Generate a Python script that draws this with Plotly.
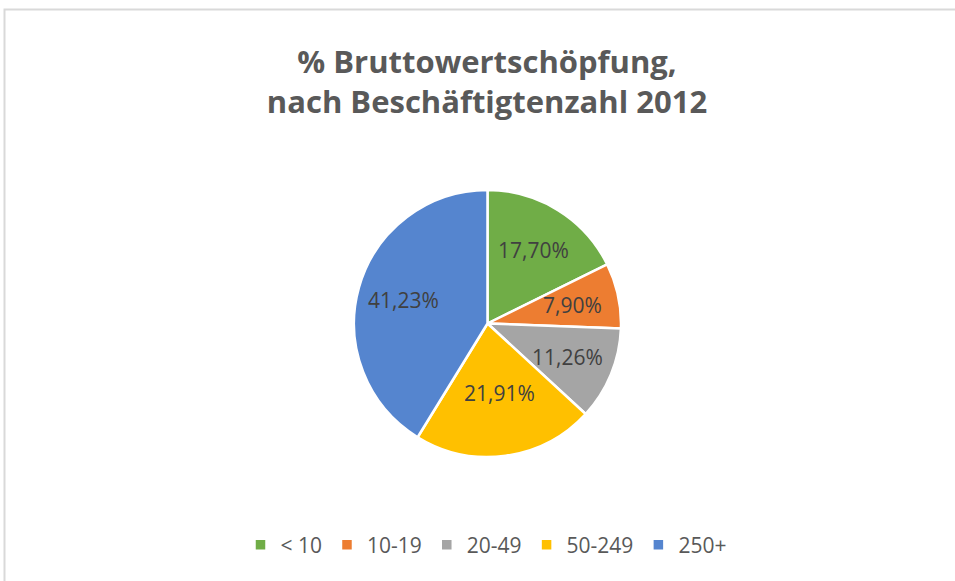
import math
import plotly.graph_objects as go

# Share of gross value added by number of employees, 2012
categories = ["< 10", "10-19", "20-49", "50-249", "250+"]
shares = [17.70, 7.90, 11.26, 21.91, 41.23]
colors = ["#70AD47", "#ED7D31", "#A5A5A5", "#FFC000", "#5585CF"]

W, H = 955, 581
FONT = "Open Sans, sans-serif"

# pie placement in pixels
CX, CY, R = 487.5, 323.5, 133.5

labels_text = [f"{v:.2f}%".replace(".", ",") for v in shares]

fig = go.Figure(
    go.Pie(
        labels=categories,
        values=shares,
        text=labels_text,
        textinfo="none",
        sort=False,
        direction="clockwise",
        rotation=0,
        marker=dict(colors=colors, line=dict(color="#FFFFFF", width=2.5)),
        domain=dict(x=[(CX - R) / W, (CX + R) / W], y=[1 - (CY + R) / H, 1 - (CY - R) / H]),
        hoverinfo="label+text",
    )
)

# data labels at the middle angle of each slice (Excel style, not shrunk)
total = sum(shares)
cum = 0
for v, t in zip(shares, labels_text):
    theta = 2 * math.pi * (cum + v / 2) / total
    cum += v
    r = 0.65 * R
    fig.add_annotation(
        x=(CX + r * math.sin(theta)) / W,
        y=1 - (CY - r * math.cos(theta)) / H,
        xref="paper", yref="paper",
        text=t, showarrow=False,
        font=dict(family=FONT, size=21, color="#404040"),
    )

# Chart area border (only top and left edges visible)
fig.add_shape(type="rect", xref="paper", yref="paper",
              x0=4.5 / W, x1=1.05, y0=-0.05, y1=1 - 9.5 / H,
              line=dict(color="#D9D9D9", width=2), fillcolor="rgba(0,0,0,0)")

fig.update_layout(
    width=W,
    height=H,
    margin=dict(l=0, r=0, t=0, b=0),
    paper_bgcolor="#FFFFFF",
    plot_bgcolor="#FFFFFF",
    title=dict(
        text="<b>% Bruttowertschöpfung,<br>nach Beschäftigtenzahl 2012</b>",
        x=487 / W,
        xanchor="center",
        y=1 - 73 / H,
        yanchor="top",
        font=dict(family=FONT, size=31, color="#595959"),
    ),
    showlegend=True,
    legend=dict(
        orientation="h",
        x=486 / W,
        xanchor="center",
        y=1 - 545 / H,
        yanchor="middle",
        font=dict(family=FONT, size=21, color="#595959"),
        itemwidth=30,
        traceorder="normal",
    ),
)

# drop the default page margin so the figure sits at the window's corner
fig.write_html("out.html", config={"displayModeBar": False},
               post_script="document.body.style.margin='0';document.body.style.overflow='hidden';")
